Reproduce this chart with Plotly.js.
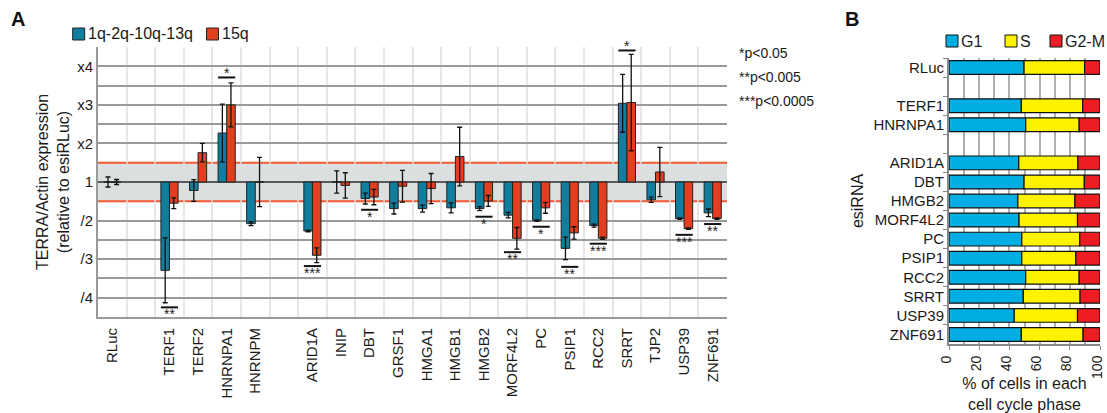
<!DOCTYPE html>
<html>
<head>
<meta charset="utf-8">
<script src="https://cdn.plot.ly/plotly-3.0.1.min.js"></script>
<style>html,body{margin:0;padding:0;background:#fff;}#chart{width:1107px;height:413px;}</style>
</head>
<body>
<div id="chart"></div>
<script>
// ---------- Panel A data (axis units: 0 = no change, +1 = x2, -1 = /2) ----------
const slotOrder = ['RLuc',' ','TERF1','TERF2','HNRNPA1','HNRNPM','  ','ARID1A','INIP','DBT','GRSF1','HMGA1','HMGB1','HMGB2','MORF4L2','PC','PSIP1','RCC2','SRRT','TJP2','USP39','ZNF691'];
const genesA = ['RLuc','TERF1','TERF2','HNRNPA1','HNRNPM','ARID1A','INIP','DBT','GRSF1','HMGA1','HMGB1','HMGB2','MORF4L2','PC','PSIP1','RCC2','SRRT','TJP2','USP39','ZNF691'];
const mixVals = [0,-2.29,-0.22,1.27,-1.08,-1.27,0,-0.43,-0.69,-0.69,-0.67,-0.69,-0.86,-1.0,-1.72,-1.13,2.04,-0.46,-0.95,-0.80];
const mixErr  = [0.13,0.84,0.28,0.75,0.05,0.02,0.29,0.14,0.14,0.09,0.13,0.05,0.07,0.02,0.29,0.04,0.75,0.07,0.02,0.10];
const q15Vals = [0,-0.55,0.76,2.0,0,-1.90,-0.09,-0.39,-0.11,-0.17,0.66,-0.49,-1.46,-0.67,-1.32,-1.46,2.06,0.26,-1.21,-0.95];
const q15Err  = [0.065,0.14,0.24,0.57,0.64,0.19,0.33,0.20,0.41,0.39,0.76,0.14,0.28,0.14,0.16,0.03,1.25,0.64,0.02,0.02];
const yTickVals = [-3,-2,-1,0,1,2,3];
const yTickText = ['/4','/3','/2','1','x2','x3','x4'];
const sigGenes = ['HNRNPA1','TERF1','ARID1A','DBT','HMGB2','MORF4L2','PC','PSIP1','RCC2','SRRT','USP39','ZNF691'];
const sigStars = ['*','**','***','*','*','**','*','**','***','*','***','**'];
const sigLineY = [2.71,-3.25,-2.18,-0.72,-0.90,-1.82,-1.16,-2.20,-1.60,3.41,-1.37,-1.09];
const pLegend = ['*p<0.05','**p<0.005','***p<0.0005'];

// ---------- Panel B data (% of cells) ----------
const bSlots = ['RLuc',' ','TERF1','HNRNPA1','  ','ARID1A','DBT','HMGB2','MORF4L2','PC','PSIP1','RCC2','SRRT','USP39','ZNF691'];
const genesB = ['RLuc','TERF1','HNRNPA1','ARID1A','DBT','HMGB2','MORF4L2','PC','PSIP1','RCC2','SRRT','USP39','ZNF691'];
const g1 = [49.7,47.9,50.8,46.2,49.7,45.6,46.4,48.2,48.2,50.8,49.2,43.2,47.9];
const sPh = [40.1,40.6,35.4,39.1,39.9,37.8,38.7,38.4,35.8,35.4,37.6,41.9,40.9];
const g2m = [10.2,11.5,13.8,14.7,10.4,16.6,14.9,13.4,16.0,13.8,13.2,14.9,11.2];

const W = 1107, H = 413;
const px = v => v / W, py = v => 1 - v / H;
const FONT = 'Liberation Sans, Arial, Helvetica, sans-serif';
const BLUE = '#127e9e', RED = '#e23e1f';

// grid every 0.5 unit on panel A (the ±0.5 lines are the red threshold lines)
const gridVals = [], gridText = [];
for (let k = -7; k <= 7; k++) {
  const v = k / 2;
  if (Math.abs(v) === 0.5) continue;
  gridVals.push(v);
  const i = yTickVals.indexOf(v);
  gridText.push(i >= 0 ? yTickText[i] : '');
}

// significance bars drawn on an overlay linear axis that matches the category slots
const sigX = [], sigY = [];
sigGenes.forEach((g, i) => {
  const idx = slotOrder.indexOf(g);
  sigX.push(idx - 0.3, idx + 0.3, null);
  sigY.push(sigLineY[i], sigLineY[i], null);
});

const errStyle = {type: 'data', color: '#111', thickness: 1.3, width: 2.5};
const traces = [
  {type: 'bar', name: '1q-2q-10q-13q', x: genesA, y: mixVals, xaxis: 'x', yaxis: 'y',
   marker: {color: BLUE, line: {color: '#222', width: 1}},
   error_y: Object.assign({array: mixErr}, errStyle), showlegend: false},
  {type: 'bar', name: '15q', x: genesA, y: q15Vals, xaxis: 'x', yaxis: 'y',
   marker: {color: RED, line: {color: '#222', width: 1}},
   error_y: Object.assign({array: q15Err}, errStyle), showlegend: false},
  {type: 'scatter', mode: 'lines', name: 'significance', x: sigX, y: sigY, xaxis: 'x3', yaxis: 'y',
   line: {color: '#111', width: 2}, connectgaps: false, showlegend: false, hoverinfo: 'skip'},
  {type: 'bar', orientation: 'h', name: 'G1', y: genesB, x: g1, xaxis: 'x2', yaxis: 'y2',
   offsetgroup: 'b', width: 0.72, marker: {color: '#00aee3', line: {color: '#111', width: 1.2}}, showlegend: false},
  {type: 'bar', orientation: 'h', name: 'S', y: genesB, x: sPh, base: g1, xaxis: 'x2', yaxis: 'y2',
   offsetgroup: 'b', width: 0.72, marker: {color: '#fff200', line: {color: '#111', width: 1.2}}, showlegend: false},
  {type: 'bar', orientation: 'h', name: 'G2-M', y: genesB, x: g2m, base: g1.map((v, i) => v + sPh[i]), xaxis: 'x2', yaxis: 'y2',
   offsetgroup: 'b', width: 0.72, marker: {color: '#ee1d24', line: {color: '#111', width: 1.2}}, showlegend: false}
];

const shapes = [];
const annotations = [];

// Panel A legend
const legA = [['1q-2q-10q-13q', BLUE, 72.7], ['15q', RED, 206.5]];
legA.forEach(([t, c, x]) => {
  shapes.push({type: 'rect', xref: 'paper', yref: 'paper', x0: px(x), x1: px(x + 12), y0: py(40), y1: py(28),
    fillcolor: c, line: {color: '#222', width: 1}, layer: 'above'});
  annotations.push({xref: 'paper', yref: 'paper', x: px(x + 13.5), y: py(34), xanchor: 'left', yanchor: 'middle',
    text: t, showarrow: false, font: {size: 16, color: '#1a1a1a'}});
});
// Panel B legend
const legB = [['G1', '#00aee3', 946], ['S', '#fff200', 1005], ['G2-M', '#ee1d24', 1050]];
legB.forEach(([t, c, x]) => {
  shapes.push({type: 'rect', xref: 'paper', yref: 'paper', x0: px(x), x1: px(x + 12), y0: py(47), y1: py(35),
    fillcolor: c, line: {color: '#111', width: 1}, layer: 'above'});
  annotations.push({xref: 'paper', yref: 'paper', x: px(x + 12.5), y: py(41), xanchor: 'left', yanchor: 'middle',
    text: t, showarrow: false, font: {size: 16, color: '#1a1a1a'}});
});

// grey "no change" band and red thresholds (drawn beneath the grid)
shapes.push(
  {type: 'rect', xref: 'x domain', yref: 'y', x0: 0, x1: 1, y0: -0.5, y1: 0.5, fillcolor: '#dcdfe0', line: {width: 0}, layer: 'below'},
  {type: 'line', xref: 'x domain', yref: 'y', x0: 0, x1: 1, y0: 0.5, y1: 0.5, line: {color: '#f25a32', width: 2}, layer: 'below'},
  {type: 'line', xref: 'x domain', yref: 'y', x0: 0, x1: 1, y0: -0.5, y1: -0.5, line: {color: '#f25a32', width: 2}, layer: 'below'}
);

// significance stars
sigGenes.forEach((g, i) => {
  const above = sigLineY[i] > 0;
  annotations.push({xref: 'x', yref: 'y', x: g, y: sigLineY[i], text: sigStars[i], showarrow: false,
    yanchor: above ? 'bottom' : 'top', yshift: above ? -6 : 3, font: {size: 14, color: '#222'}});
});

// p-value key
pLegend.forEach((t, i) => {
  annotations.push({xref: 'paper', yref: 'paper', x: px(737), y: py(53 + 24 * i), xanchor: 'left', yanchor: 'middle',
    text: t, showarrow: false, font: {size: 14, color: '#1a1a1a'}});
});
// panel letters
annotations.push({xref: 'paper', yref: 'paper', x: px(9), y: py(19), xanchor: 'left', yanchor: 'middle',
  text: '<b>A</b>', showarrow: false, font: {size: 20, color: '#111'}});
annotations.push({xref: 'paper', yref: 'paper', x: px(843), y: py(19), xanchor: 'left', yanchor: 'middle',
  text: '<b>B</b>', showarrow: false, font: {size: 20, color: '#111'}});

const layout = {
  width: W, height: H,
  margin: {l: 0, r: 0, t: 0, b: 0},
  paper_bgcolor: '#fff', plot_bgcolor: 'rgba(0,0,0,0)',
  font: {family: FONT, color: '#1a1a1a'},
  barmode: 'group', bargap: 0.4, bargroupgap: 0,
  showlegend: false,
  xaxis: {domain: [px(98), px(727)], anchor: 'y', type: 'category', categoryorder: 'array', categoryarray: slotOrder,
    range: [-0.5, slotOrder.length - 0.5], tickson: 'boundaries', showgrid: true, gridcolor: 'rgba(222,222,222,0.75)', gridwidth: 2,
    ticks: '', tickangle: -90, tickfont: {size: 15, color: '#1a1a1a'}, ticklabelstandoff: 3,
    showline: true, linecolor: '#9a9a9a', linewidth: 2, zeroline: false},
  xaxis3: {overlaying: 'x', anchor: 'y', type: 'linear', range: [-0.5, slotOrder.length - 0.5], visible: false,
    showgrid: false, zeroline: false},
  yaxis: {domain: [py(317), py(47)], anchor: 'x', range: [-3.5, 3.5], tickvals: gridVals, ticktext: gridText,
    showgrid: true, gridcolor: '#9a9a9a', gridwidth: 2, zeroline: true, zerolinecolor: '#5a5a5a', zerolinewidth: 2,
    ticks: '', ticklabelstandoff: 0,
    tickfont: {size: 15, color: '#1a1a1a'}, showline: true, linecolor: '#9a9a9a', linewidth: 2,
    title: {text: 'TERRA/Actin expression<br>(relative to esiRLuc)', font: {size: 16, color: '#1a1a1a'}, standoff: 4}},
  xaxis2: {domain: [px(949), px(1100)], anchor: 'y2', range: [0, 100], tickvals: [0, 20, 40, 60, 80, 100],
    tickangle: -90, tickfont: {size: 14, color: '#1a1a1a'}, ticklabelshift: -3,
    showgrid: true, gridcolor: '#b0b0b0', gridwidth: 1.5,
    minor: {tickvals: [10, 30, 50, 70, 90], showgrid: true, gridcolor: '#b0b0b0', gridwidth: 1.5},
    ticks: 'outside', ticklen: 4, tickcolor: '#888', showline: true, linecolor: '#888', linewidth: 2, zeroline: false,
    title: {text: '% of cells in each<br>cell cycle phase', font: {size: 16, color: '#1a1a1a'}, standoff: 6}},
  yaxis2: {domain: [py(344), py(58)], anchor: 'x2', type: 'category', categoryorder: 'array', categoryarray: bSlots,
    range: [bSlots.length - 0.5, -0.5], tickson: 'boundaries', ticks: 'outside', ticklen: 4, tickcolor: '#888',
    showgrid: false, showline: true, linecolor: '#888', linewidth: 2, tickfont: {size: 15, color: '#1a1a1a'},
    ticklabelstandoff: 0,
    title: {text: 'esiRNA', font: {size: 16, color: '#1a1a1a'}, standoff: 6}},
  shapes: shapes,
  annotations: annotations
};

Plotly.newPlot('chart', traces, layout, {displayModeBar: false});
</script>
</body>
</html>
